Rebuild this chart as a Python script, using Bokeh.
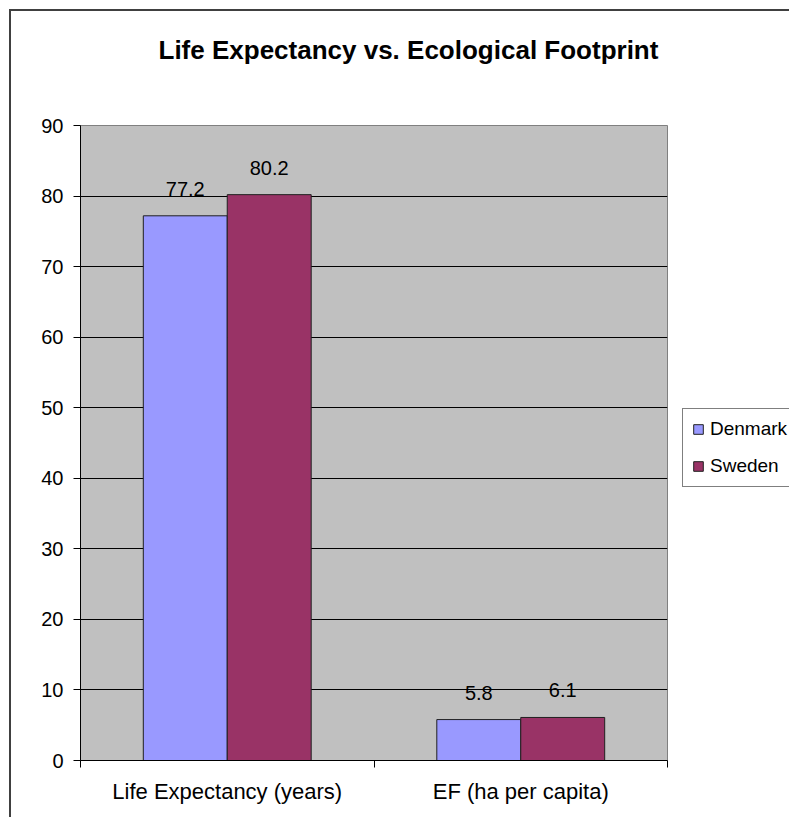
from bokeh.plotting import figure
from bokeh.layouts import row
from bokeh.models import (ColumnDataSource, FactorRange, Range1d, LinearAxis, FixedTicker,
                          Legend, LegendItem, LabelSet, Title)
from bokeh.transform import dodge
from bokeh.core.properties import value
from bokeh.embed import file_html
from bokeh.resources import INLINE

# ---- data ----
title_text = "Life Expectancy vs. Ecological Footprint"
categories = ["Life Expectancy (years)", "EF (ha per capita)"]
series_names = ["Denmark", "Sweden"]
denmark = [77.2, 5.8]
sweden = [80.2, 6.1]
y_ticks = [0, 10, 20, 30, 40, 50, 60, 70, 80, 90]

colors = ["#9999FF", "#993366"]
FONT = "Liberation Sans"
BAR_LINE = "#202020"

source = ColumnDataSource(data=dict(
    category=categories,
    Denmark=denmark,
    Sweden=sweden,
    Denmark_label=[f"{v:.1f}" for v in denmark],
    Sweden_label=[f"{v:.1f}" for v in sweden],
))

TOTAL_W, TOTAL_H = 789, 817
MAIN_W = 672

p = figure(width=MAIN_W, height=TOTAL_H, title=None,
           x_range=FactorRange(factors=categories),
           y_range=Range1d(y_ticks[0], y_ticks[-1]),
           x_axis_location=None,
           output_backend="svg", toolbar_location=None,
           min_border_left=80, min_border_right=MAIN_W - 667,
           min_border_top=125, min_border_bottom=57)
p.border_fill_color = None
p.background_fill_color = "#C0C0C0"
p.outline_line_color = "#808080"
p.outline_line_width = 1

# title: an empty spacer panel next to the plot area, then the title itself
p.add_layout(Title(text=" ", text_font=FONT, text_font_size="10px", standoff=48), "above")
p.add_layout(Title(text=title_text, text_font=FONT, text_font_size="26px",
                   text_font_style="bold", text_color="black",
                   align="left", offset=78, standoff=0), "above")

# y axis
p.yaxis.ticker = FixedTicker(ticks=y_ticks)
p.yaxis.major_tick_in = 0
p.yaxis.major_tick_out = 7
p.yaxis.minor_tick_line_color = None
p.yaxis.axis_line_color = "black"
p.yaxis.major_tick_line_color = "black"
p.yaxis.major_label_text_font = FONT
p.yaxis.major_label_text_font_size = "20px"
p.yaxis.major_label_text_color = "black"
p.yaxis.major_label_standoff = 10

p.ygrid.ticker = FixedTicker(ticks=y_ticks[1:-1])
p.ygrid.grid_line_color = "black"
p.ygrid.grid_line_width = 1
p.xgrid.visible = False

# x axis: labels at category centres, ticks at category boundaries
n = len(categories)
xaxis = LinearAxis(
    ticker=FixedTicker(ticks=[i + 0.5 for i in range(n)], minor_ticks=list(range(n + 1))),
    major_label_overrides={i + 0.5: c for i, c in enumerate(categories)},
)
xaxis.major_tick_in = 0
xaxis.major_tick_out = 0
xaxis.minor_tick_in = 0
xaxis.minor_tick_out = 7
xaxis.minor_tick_line_color = "black"
xaxis.axis_line_color = "black"
xaxis.major_label_text_font = FONT
xaxis.major_label_text_font_size = "22px"
xaxis.major_label_text_color = "black"
xaxis.major_label_standoff = 11
p.add_layout(xaxis, "below")

bar_w = 0.286
offsets = [-bar_w / 2, bar_w / 2]
for name, off, col in zip(series_names, offsets, colors):
    p.vbar(x=dodge("category", off, range=p.x_range), top=name, width=bar_w,
           bottom=0, source=source, fill_color=col, line_color=BAR_LINE, line_width=1)
    labels = LabelSet(x=dodge("category", off, range=p.x_range), y=name, text=name + "_label",
                      source=source, text_align="center", text_baseline="alphabetic",
                      y_offset=20, text_font=value(FONT), text_font_size="20px",
                      text_color="black")
    p.add_layout(labels)

# ---- legend panel (to the right of the plot area) ----
lg = figure(width=TOTAL_W - MAIN_W, height=TOTAL_H,
            x_range=Range1d(0, 1), y_range=Range1d(0, 1),
            output_backend="svg", toolbar_location=None,
            min_border_left=0, min_border_right=0, min_border_top=0, min_border_bottom=0)
lg.axis.visible = False
lg.grid.visible = False
lg.outline_line_color = None
lg.background_fill_color = None
lg.border_fill_color = None

# same series, drawn off-range here: they only provide the legend swatches
legend_renderers = [
    lg.vbar(x=name, top=name, width=0.1, source=source,
            fill_color=col, line_color=BAR_LINE, line_width=1)
    for name, col in zip(series_names, colors)
]
legend = Legend(items=[LegendItem(label=nm, renderers=[r])
                       for nm, r in zip(series_names, legend_renderers)],
                location=(10, 273))
legend.label_text_font = FONT
legend.label_text_font_size = "19px"
legend.label_text_color = "black"
legend.glyph_width = 12
legend.glyph_height = 12
legend.label_height = 20
legend.spacing = 15
legend.padding = 9
legend.margin = 0
legend.label_standoff = 6
legend.border_line_color = "black"
legend.border_line_width = 1
legend.background_fill_color = "white"
lg.add_layout(legend, "center")

layout = row(p, lg, spacing=0)
# outer chart-area border (only its top and left edges fall inside the picture)
layout.styles = {
    "background-color": "white",
    "background-image": "linear-gradient(#404040, #404040), linear-gradient(#404040, #404040)",
    "background-size": "2px 100%, 100% 2px",
    "background-position": "9px 9px, 9px 9px",
    "background-repeat": "no-repeat",
}

open("out.html", "w").write(file_html(layout, INLINE))
